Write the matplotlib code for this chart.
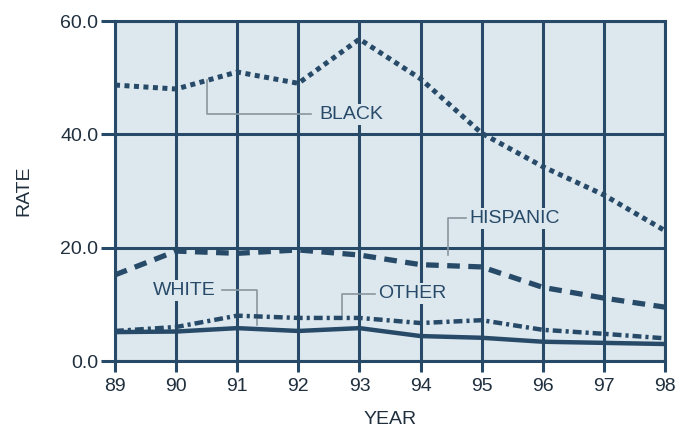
import matplotlib
matplotlib.use('Agg')
from matplotlib import pyplot as plt

years = [89, 90, 91, 92, 93, 94, 95, 96, 97, 98]
yearLabels = ['89', '90', '91', '92', '93', '94', '95', '96', '97', '98']
black = [48.7, 48.0, 51.0, 49.0, 56.8, 49.8, 40.2, 34.3, 29.3, 23.0]
hispanic = [15.2, 19.4, 19.0, 19.6, 18.7, 17.0, 16.6, 13.0, 11.1, 9.5]
other = [5.3, 6.0, 8.0, 7.6, 7.6, 6.7, 7.2, 5.5, 4.8, 4.0]
white = [5.1, 5.2, 5.8, 5.3, 5.8, 4.4, 4.1, 3.4, 3.2, 3.0]
yTicks = [0, 20, 40, 60]
yTickLabels = ['0.0', '20.0', '40.0', '60.0']

navy = '#284a69'
leader = '#8a969e'
bg = '#dde8ee'
ink = '#1f2f3d'

plt.rcParams['font.family'] = ['Liberation Sans', 'DejaVu Sans']

fig = plt.figure(figsize=(6.82, 4.36), dpi=100)
ax = fig.add_axes([115/682, 1 - 361/436, 550/682, 340/436])
ax.set_facecolor(bg)

ax.plot(years, black, color=navy, lw=3.6, dashes=(1.0, 0.9), dash_capstyle='butt', zorder=3)
ax.plot(years, hispanic, color=navy, lw=3.8, dashes=(2.4, 1.6), dash_capstyle='butt', zorder=3)
ax.plot(years, other, color=navy, lw=3.2, dashes=(2.0, 0.9, 0.7, 0.9), dash_capstyle='butt', zorder=3)
ax.plot(years, white, color=navy, lw=3.2, solid_capstyle='butt', zorder=3)

ax.set_xlim(89, 98)
ax.set_ylim(0, 60)
ax.set_xticks(years)
ax.set_xticklabels(yearLabels)
ax.set_yticks(yTicks)
ax.set_yticklabels(yTickLabels)
ax.grid(True, color=navy, lw=2.2)
ax.set_axisbelow(True)
for s in ax.spines.values():
  s.set_color(navy)
  s.set_linewidth(2.2)
ax.tick_params(axis='x', length=8, width=2.2, color=navy, labelsize=14, pad=4)
ax.tick_params(axis='y', length=10, width=2.2, color=navy, labelsize=14, pad=2)
for t in ax.get_xticklabels() + ax.get_yticklabels():
  t.set_color(ink)

ax.set_xlabel('YEAR', fontsize=14, color=ink, labelpad=12)
ax.set_ylabel('RATE', fontsize=14, color=ink, labelpad=20)

# leader lines and labels
box = dict(facecolor=bg, edgecolor='none', pad=1.5)
txt = dict(fontsize=14, color=navy, va='center', bbox=box, zorder=2.5)
ax.plot([90.5, 90.5, 92.2], [49.6, 43.5, 43.5], color=leader, lw=1.2, zorder=2)
ax.text(92.35, 43.5, 'BLACK', ha='left', **txt)
ax.plot([94.45, 94.45, 94.75], [18.7, 25.2, 25.2], color=leader, lw=1.2, zorder=2)
ax.text(94.8, 25.2, 'HISPANIC', ha='left', **txt)
ax.plot([90.75, 91.32, 91.32], [12.5, 12.5, 6.3], color=leader, lw=1.2, zorder=2)
ax.text(90.65, 12.5, 'WHITE', ha='right', **txt)
ax.plot([92.72, 92.72, 93.25], [8.1, 11.9, 11.9], color=leader, lw=1.2, zorder=2)
ax.text(93.3, 11.9, 'OTHER', ha='left', **txt)

fig.savefig('out.png', dpi=100)
